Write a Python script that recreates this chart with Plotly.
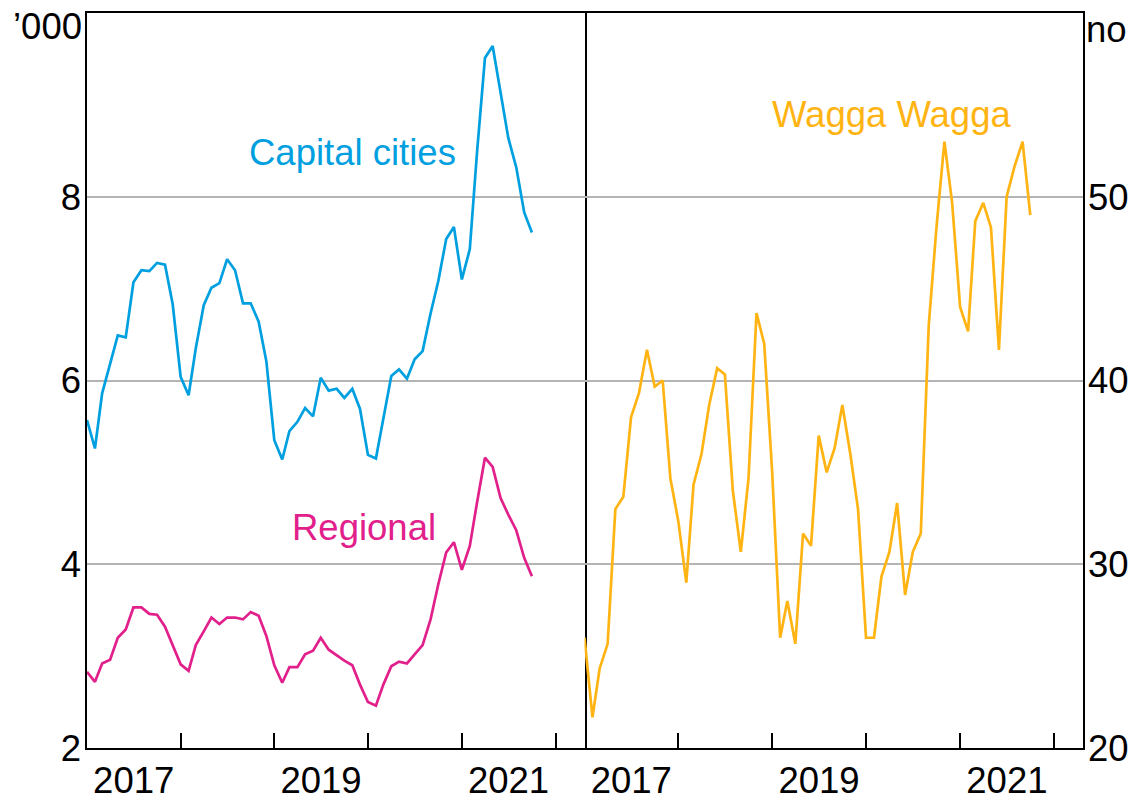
import pandas as pd
import plotly.graph_objects as go

# Monthly observations, Jan 2017 to Oct 2021
MONTHS = pd.date_range("2017-01-01", periods=58, freq="MS")

# Left panel, '000
CAPITAL_CITIES = [
    5.57, 5.26, 5.86, 6.17, 6.49, 6.47, 7.07, 7.20, 7.19, 7.28, 7.26, 6.83,
    6.04, 5.84, 6.35, 6.82, 7.01, 7.06, 7.32, 7.20, 6.84, 6.84, 6.64, 6.21,
    5.35, 5.14, 5.45, 5.55, 5.70, 5.61, 6.03, 5.89, 5.91, 5.81, 5.91, 5.69,
    5.19, 5.15, 5.57, 6.05, 6.12, 6.02, 6.23, 6.32, 6.73, 7.08, 7.54, 7.67,
    7.10, 7.43, 8.48, 9.51, 9.64, 9.11, 8.64, 8.32, 7.83, 7.61,
]
REGIONAL = [
    2.83, 2.72, 2.92, 2.96, 3.20, 3.29, 3.53, 3.53, 3.46, 3.45, 3.32, 3.11,
    2.91, 2.84, 3.12, 3.27, 3.42, 3.35, 3.42, 3.42, 3.40, 3.48, 3.44, 3.22,
    2.90, 2.71, 2.88, 2.88, 3.02, 3.06, 3.20, 3.07, 3.01, 2.95, 2.90, 2.69,
    2.50, 2.46, 2.69, 2.89, 2.94, 2.92, 3.02, 3.12, 3.40, 3.78, 4.13, 4.24,
    3.94, 4.20, 4.67, 5.16, 5.06, 4.72, 4.54, 4.37, 4.07, 3.87,
]

# Right panel, number
WAGGA_WAGGA = [
    26.00, 21.67, 24.33, 25.67, 33.00, 33.67, 38.00, 39.33, 41.67, 39.67, 40.00, 34.67,
    32.33, 29.00, 34.33, 36.00, 38.67, 40.67, 40.33, 34.00, 30.67, 34.67, 43.67, 42.00,
    35.00, 26.00, 28.00, 25.67, 31.67, 31.00, 37.00, 35.00, 36.33, 38.67, 36.00, 33.00,
    26.00, 26.00, 29.33, 30.67, 33.33, 28.33, 30.67, 31.67, 43.00, 48.33, 53.00, 49.67,
    44.00, 42.67, 48.67, 49.67, 48.33, 41.67, 50.00, 51.67, 53.00, 49.00,
]

LABEL_YEARS = ["2017", "2019", "2021"]
LABEL_DATES = ["2017-07-02", "2019-07-02", "2021-07-02"]
YEAR_STARTS = ["2018-01-01", "2019-01-01", "2020-01-01", "2021-01-01", "2022-01-01"]
LEFT_TICKS = [2, 4, 6, 8]
RIGHT_TICKS = [20, 30, 40, 50]

BLUE = "#00A0E0"
MAGENTA = "#E2208B"
ORANGE = "#FFB414"
FONT = "Arial, Liberation Sans, sans-serif"
FS = 36.5
X_RANGE = ["2017-01-01", "2022-04-24"]

fig = go.Figure()
fig.add_trace(go.Scatter(x=MONTHS, y=CAPITAL_CITIES, mode="lines",
                         line=dict(color=BLUE, width=2.7), xaxis="x", yaxis="y"))
fig.add_trace(go.Scatter(x=MONTHS, y=REGIONAL, mode="lines",
                         line=dict(color=MAGENTA, width=2.7), xaxis="x", yaxis="y"))
fig.add_trace(go.Scatter(x=MONTHS, y=WAGGA_WAGGA, mode="lines",
                         line=dict(color=ORANGE, width=2.7), xaxis="x2", yaxis="y2"))

xaxis_common = dict(
    type="date", range=X_RANGE, automargin=False,
    tickmode="array", tickvals=LABEL_DATES, ticktext=LABEL_YEARS, ticks="",
    tickfont=dict(family=FONT, size=FS, color="black"),
    ticklabelstandoff=-1,
    minor=dict(tickmode="array", tickvals=YEAR_STARTS, ticks="inside",
               ticklen=15, tickwidth=1.5, tickcolor="black", showgrid=False),
    showgrid=False, zeroline=False,
    showline=True, linecolor="black", linewidth=1.5, mirror=True,
)
yaxis_common = dict(
    tickmode="array", ticks="", automargin=False,
    tickfont=dict(family=FONT, size=FS, color="black"),
    showgrid=True, gridcolor="#B4B4B4", gridwidth=1.5, zeroline=False,
    showline=True, linecolor="black", linewidth=1.5,
)

fig.update_layout(
    width=1131, height=800,
    paper_bgcolor="white", plot_bgcolor="white",
    showlegend=False,
    margin=dict(l=87, r=48, t=13, b=52),
    xaxis=dict(domain=[0, 0.4995], anchor="y", **xaxis_common),
    xaxis2=dict(domain=[0.4995, 1], anchor="y2", **xaxis_common),
    # left panel draws the divider, right panel only its outer edge
    yaxis=dict(range=[2, 10], tickvals=LEFT_TICKS, anchor="x", side="left",
               mirror=True, ticklabelstandoff=-3, **yaxis_common),
    yaxis2=dict(range=[20, 60], tickvals=RIGHT_TICKS, anchor="x2", side="right",
                mirror=False, ticklabelstandoff=-4, **yaxis_common),
)

# Series labels
fig.add_annotation(x="2019-11-02", y=8.48, xref="x", yref="y", text="Capital cities",
                   showarrow=False, font=dict(family=FONT, size=FS, color=BLUE))
fig.add_annotation(x="2019-12-15", y=4.40, xref="x", yref="y", text="Regional",
                   showarrow=False, font=dict(family=FONT, size=FS, color=MAGENTA))
fig.add_annotation(x="2020-04-08", y=54.5, xref="x2", yref="y2", text="Wagga Wagga",
                   showarrow=False, font=dict(family=FONT, size=FS, color=ORANGE))

# Units
fig.add_annotation(x=-0.003, y=0.981, xref="paper", yref="paper", text="’000",
                   xanchor="right", yanchor="middle", showarrow=False,
                   font=dict(family=FONT, size=FS, color="black"))
fig.add_annotation(x=1.001, y=0.977, xref="paper", yref="paper", text="no",
                   xanchor="left", yanchor="middle", showarrow=False,
                   font=dict(family=FONT, size=FS, color="black"))

# drop the default body margin so the 1131x800 figure fills the window exactly
fig.write_html("out.html", config={"displayModeBar": False},
               post_script="document.body.style.margin = '0';")
